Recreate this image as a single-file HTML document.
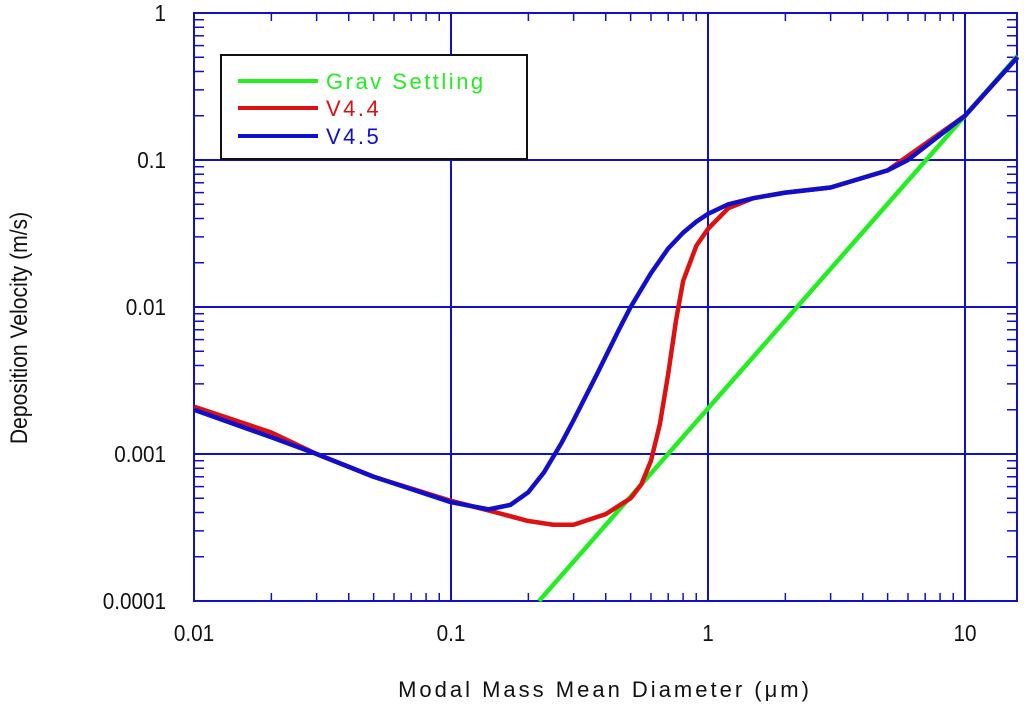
<!DOCTYPE html>
<html><head><meta charset="utf-8"><style>
body{margin:0;background:#fff;}
svg{display:block;font-family:"Liberation Sans",Arial,sans-serif;}
</style></head><body>
<svg id="chart" width="1024" height="705"></svg>
<script>
const xTickValues=[0.01,0.1,1,10];
const xTickLabels=["0.01","0.1","1","10"];
const yTickValues=[0.0001,0.001,0.01,0.1,1];
const yTickLabels=["0.0001","0.001","0.01","0.1","1"];
const gravD=[0.22,16];
const gravV=[0.0001,0.51];
const v45D=[0.01,0.02,0.03,0.05,0.1,0.14,0.17,0.2,0.23,0.27,0.3,0.37,0.45,0.5,0.6,0.7,0.8,0.9,1,1.2,1.5,2,3,5,6,10,16];
const v45V=[0.002,0.0013,0.001,0.0007,0.00047,0.00042,0.00045,0.00055,0.00075,0.0012,0.0017,0.0035,0.007,0.01,0.017,0.025,0.032,0.038,0.043,0.05,0.055,0.06,0.065,0.085,0.1,0.2,0.5];
const v44D=[0.01,0.02,0.03,0.05,0.1,0.15,0.2,0.25,0.3,0.4,0.5,0.55,0.6,0.65,0.7,0.75,0.8,0.9,1,1.2,1.5,2,3,5,10,16];
const v44V=[0.0021,0.0014,0.001,0.0007,0.00048,0.0004,0.00035,0.00033,0.00033,0.00039,0.0005,0.00062,0.0009,0.0016,0.0035,0.008,0.015,0.026,0.034,0.047,0.055,0.06,0.065,0.085,0.2,0.5];
const L=194,R=1017,T=13,B=601,DX=257,DY=147;
const sx=d=>L+(Math.log10(d)+2)*DX;
const sy=v=>B-(Math.log10(v)+4)*DY;
const NS="http://www.w3.org/2000/svg";
const svg=document.getElementById('chart');
function mk(t,a,p){const e=document.createElementNS(NS,t);for(const k in a)e.setAttribute(k,a[k]);(p||svg).appendChild(e);return e;}
const blue="#1010c8";
xTickValues.forEach(v=>{const l=mk('line',{x1:sx(v),x2:sx(v),y1:T,y2:B,stroke:blue,'stroke-width':2});

});
yTickValues.forEach(v=>{const l=mk('line',{x1:L,x2:R,y1:sy(v),y2:sy(v),stroke:blue,'stroke-width':2});

});
const frame=mk('rect',{x:L,y:T,width:R-L,height:B-T,fill:'none',stroke:blue,'stroke-width':2});


for(let e=-2;e<2;e++)for(let m=2;m<10;m++){const x=sx(m*Math.pow(10,e));if(x>R)continue;
mk('line',{x1:x,x2:x,y1:B,y2:B-8,stroke:blue,'stroke-width':1.5});mk('line',{x1:x,x2:x,y1:T,y2:T+8,stroke:blue,'stroke-width':1.5});}
for(let e=-4;e<0;e++)for(let m=2;m<10;m++){const y=sy(m*Math.pow(10,e));
mk('line',{x1:L,x2:L+10,y1:y,y2:y,stroke:blue,'stroke-width':1.5});mk('line',{x1:R,x2:R-10,y1:y,y2:y,stroke:blue,'stroke-width':1.5});}
xTickValues.forEach((v,i)=>{const t=mk('text',{x:0,y:0,'text-anchor':'middle','font-size':23,fill:'#111',transform:`translate(${sx(v)},641) scale(0.9,1)`});t.textContent=xTickLabels[i];

});
yTickValues.forEach((v,i)=>{const t=mk('text',{x:0,y:0,'text-anchor':'end','font-size':23,fill:'#111',transform:`translate(166,${sy(v)+8}) scale(0.9,1)`});t.textContent=yTickLabels[i];

});
const xt=mk('text',{x:605,y:697,'text-anchor':'middle','font-size':22,'letter-spacing':3,fill:'#111'});xt.textContent="Modal Mass Mean Diameter (\u03bcm)";


const yt=mk('text',{x:0,y:0,'text-anchor':'middle','font-size':24,fill:'#111',transform:'translate(27,328) rotate(-90) scale(0.88,1)'});yt.textContent="Deposition Velocity (m/s)";


function series(D,V,c,name){const p=mk('polyline',{points:D.map((d,i)=>sx(d)+','+sy(V[i])).join(' '),fill:'none',stroke:c,'stroke-width':4.5,'stroke-linejoin':'round'});

}
series(gravD,gravV,'#22ee22','grav-settling-line');
series(v44D,v44V,'#dd1111','v44-line');
series(v45D,v45V,'#1010cc','v45-line');
const lg=mk('g',{});


mk('rect',{x:221,y:55,width:306,height:104,fill:'#fff',stroke:'#111','stroke-width':2},lg);
[['Grav Settling','#22ee22',81],['V4.4','#dd1111',108],['V4.5','#1010cc',136]].forEach(([n,c,y])=>{
mk('line',{x1:238,x2:318,y1:y,y2:y,stroke:c,'stroke-width':4},lg);
const t=mk('text',{x:326,y:y+8,'font-size':22,'letter-spacing':2.5,fill:c},lg);t.textContent=n;

});
</script>
</body></html>
